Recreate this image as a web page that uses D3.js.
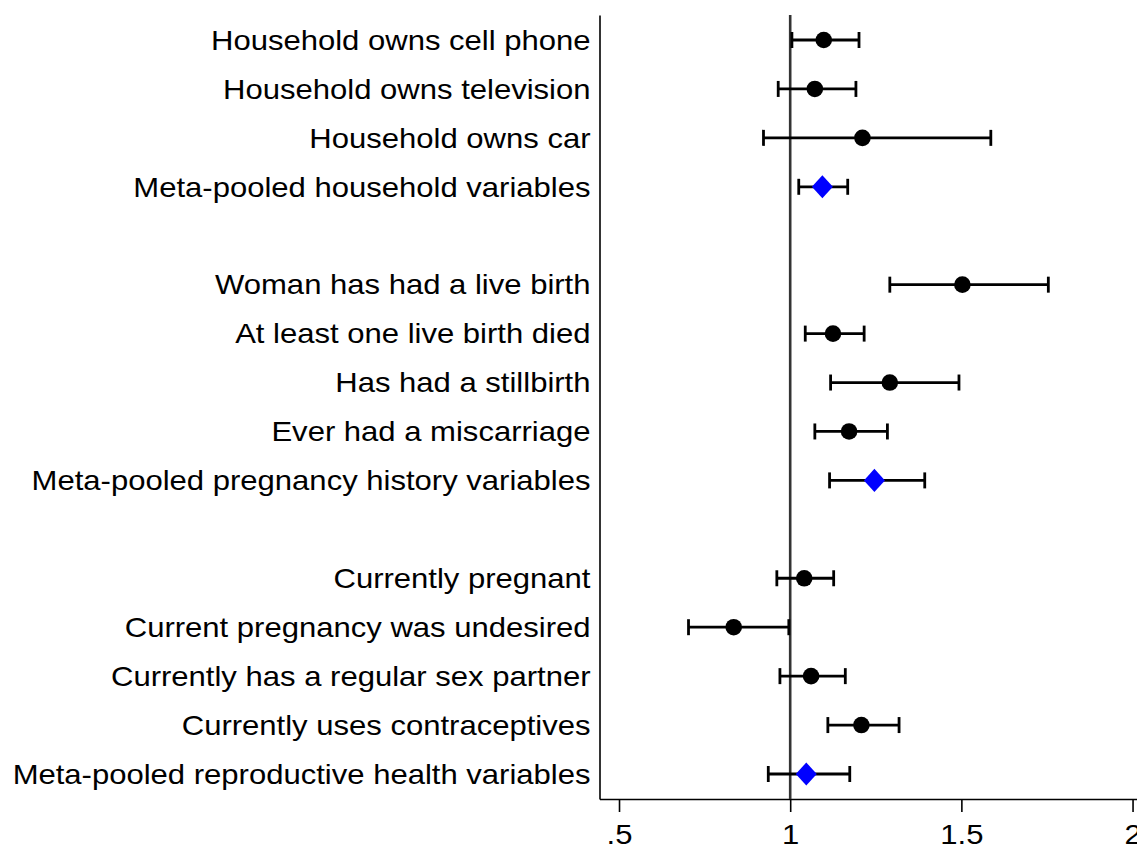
<!DOCTYPE html>
<html><head><meta charset="utf-8">
<script src="https://cdn.jsdelivr.net/npm/d3@7"></script>
<style>body{margin:0;background:#fff}svg{display:block}</style>
</head><body><svg id="c" width="1137" height="850"></svg>
<script>
const labels = ["Household owns cell phone","Household owns television","Household owns car","Meta-pooled household variables","",
"Woman has had a live birth","At least one live birth died","Has had a stillbirth","Ever had a miscarriage","Meta-pooled pregnancy history variables","",
"Currently pregnant","Current pregnancy was undesired","Currently has a regular sex partner","Currently uses contraceptives","Meta-pooled reproductive health variables"];
const estimates = [1.098,1.072,1.211,1.094,null,1.503,1.125,1.291,1.172,1.246,null,1.041,0.835,1.061,1.208,1.047];
const lower = [1.005,0.965,0.922,1.025,null,1.291,1.044,1.118,1.072,1.115,null,0.961,0.703,0.970,1.110,0.936];
const upper = [1.201,1.192,1.586,1.168,null,1.754,1.216,1.493,1.284,1.393,null,1.127,0.996,1.161,1.318,1.174];
const pooled = [false,false,false,true,false,false,false,false,false,true,false,false,false,false,false,true];
const xTicks = [0.5,1,1.5,2];
const xTickLabels = [".5","1","1.5","2"];

const svg = d3.select("#c");
const font = "'Liberation Sans', Arial, sans-serif";
const sx = 1.15;
const x = d3.scaleLinear().domain([0.443, 2.013]).range([599.5, 1137]);
const y = d3.scaleLinear().domain([-0.511, 15.511]).range([15, 799]);

const rows = labels.map((l,i)=>({l,i,e:estimates[i],lo:lower[i],hi:upper[i],p:pooled[i]})).filter(d=>d.e!==null);

// x axis
const xa = svg.append("g").attr("transform","translate(0,"+y(15.511)+")")
  .call(d3.axisBottom(x).tickValues(xTicks).tickFormat((d,i)=>xTickLabels[i]).tickSize(13).tickSizeOuter(0));
xa.select(".domain").attr("stroke","#000").attr("stroke-width",1.6);
xa.selectAll(".tick line").attr("stroke","#000").attr("stroke-width",1.6);
xa.selectAll(".tick text").attr("font-family",font).attr("font-size",27).attr("fill","#000")
  .attr("y",0).attr("dy",null).attr("transform","translate(0,45) scale("+sx+",1)");

// y axis
const ya = svg.append("g").attr("transform","translate("+x.range()[0]+",0)")
  .call(d3.axisLeft(y).tickValues(rows.map(d=>d.i)).tickFormat(i=>labels[i]).tickSize(0).tickPadding(0).tickSizeOuter(0));
ya.select(".domain").attr("stroke","#000").attr("stroke-width",1.6);
ya.selectAll(".tick text").attr("font-family",font).attr("font-size",27).attr("fill","#000")
  .attr("x",0).attr("dy","0.345em").attr("transform","translate(-9,0) scale("+sx+",1)");

// reference line
svg.append("line").attr("x1",x(1)).attr("x2",x(1)).attr("y1",y(-0.511)).attr("y2",y(15.511))
  .attr("stroke","#333").attr("stroke-width",2.6);

const g = svg.append("g");
g.selectAll(".ci").data(rows).join("line")
  .attr("x1",d=>x(d.lo)).attr("x2",d=>x(d.hi)).attr("y1",d=>y(d.i)).attr("y2",d=>y(d.i))
  .attr("stroke","#000").attr("stroke-width",2.8);
g.selectAll(".capl").data(rows).join("line")
  .attr("x1",d=>x(d.lo)).attr("x2",d=>x(d.lo)).attr("y1",d=>y(d.i)-8).attr("y2",d=>y(d.i)+8)
  .attr("stroke","#000").attr("stroke-width",2.8);
g.selectAll(".caph").data(rows).join("line")
  .attr("x1",d=>x(d.hi)).attr("x2",d=>x(d.hi)).attr("y1",d=>y(d.i)-8).attr("y2",d=>y(d.i)+8)
  .attr("stroke","#000").attr("stroke-width",2.8);
g.selectAll(".pt").data(rows.filter(d=>!d.p)).join("circle")
  .attr("cx",d=>x(d.e)).attr("cy",d=>y(d.i)).attr("r",8.3).attr("fill","#000");
const diamondType = {draw(ctx,size){const w=Math.sqrt(size)/2, h=w*1.1; ctx.moveTo(0,-h);ctx.lineTo(w,0);ctx.lineTo(0,h);ctx.lineTo(-w,0);ctx.closePath();}};
const sym = d3.symbol().type(diamondType).size(441);
g.selectAll(".dm").data(rows.filter(d=>d.p)).join("path")
  .attr("d",sym).attr("transform",d=>"translate("+x(d.e)+","+y(d.i)+")").attr("fill","#0000ff");
</script></body></html>
